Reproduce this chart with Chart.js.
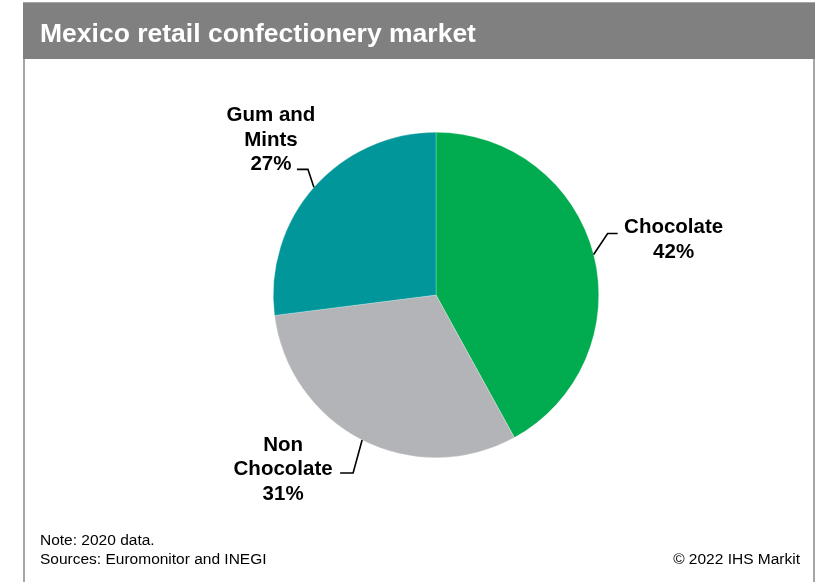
<!DOCTYPE html>
<html>
<head>
<meta charset="utf-8">
<title>Mexico retail confectionery market</title>
<script src="https://cdn.jsdelivr.net/npm/chart.js@4"></script>
<style>
  html, body { margin: 0; padding: 0; background: #ffffff; }
  #wrap { position: relative; width: 817px; height: 582px; }
</style>
</head>
<body>
<div id="wrap"><canvas id="pie"></canvas></div>
<script>
// 2020 retail confectionery split, share of value (%)
const categories = ['Chocolate', 'Non Chocolate', 'Gum and Mints'];
const shares = [42, 31, 27];
const labelLines = [['Chocolate'], ['Non', 'Chocolate'], ['Gum and', 'Mints']];
const sliceColors = ['#00ac4f', '#b2b4b7', '#00969a'];

const FONT = '"Liberation Sans", Arial, Helvetica, sans-serif';

// leader line: elbow offset from the arc midpoint, horizontal tail length,
// and where the text block sits relative to the tail end
const callouts = [
  { elbow: [14, -21], tail: 10,  text: [56, -6] },
  { elbow: [-9, 33],  tail: -13, text: [-57, -28] },
  { elbow: [-6, -18], tail: -11, text: [-26, -54] }
];

const frame = {
  id: 'frame',
  beforeDraw(chart) {
    const c = chart.ctx;
    c.save();
    // outer box
    c.strokeStyle = '#a6a6a6';
    c.lineWidth = 2;
    c.beginPath();
    c.moveTo(24, 600); c.lineTo(24, 3); c.lineTo(814, 3); c.lineTo(814, 600);
    c.stroke();
    // header band
    c.fillStyle = '#7f807f';
    c.fillRect(23, 3, 792, 56);
    c.fillStyle = '#ffffff';
    c.font = 'bold 26.5px ' + FONT;
    c.textBaseline = 'alphabetic';
    c.fillText('Mexico retail confectionery market', 40, 42);
    // footnotes
    c.fillStyle = '#000000';
    c.font = '15.5px ' + FONT;
    c.textBaseline = 'middle';
    c.fillText('Note: 2020 data.', 40, 541);
    c.fillText('Sources: Euromonitor and INEGI', 40, 560);
    c.textAlign = 'right';
    c.fillText('\u00a9 2022 IHS Markit', 800, 560);
    c.restore();
  },
  afterDraw(chart) {
    const c = chart.ctx;
    const arcs = chart.getDatasetMeta(0).data;
    c.save();
    arcs.forEach((arc, i) => {
      const p = arc.getProps(['x', 'y', 'startAngle', 'endAngle', 'outerRadius'], true);
      const mid = (p.startAngle + p.endAngle) / 2;
      const ax = p.x + Math.cos(mid) * p.outerRadius;
      const ay = p.y + Math.sin(mid) * p.outerRadius;
      const co = callouts[i];
      const ex = ax + co.elbow[0], ey = ay + co.elbow[1];
      const tx = ex + co.tail;
      c.strokeStyle = '#000000';
      c.lineWidth = 1.6;
      c.beginPath();
      c.moveTo(ax, ay); c.lineTo(ex, ey); c.lineTo(tx, ey);
      c.stroke();

      const lines = labelLines[i].concat([shares[i] + '%']);
      const cx = tx + co.text[0];
      const top = ey + co.text[1];
      c.fillStyle = '#000000';
      c.font = 'bold 20.5px ' + FONT;
      c.textAlign = 'center';
      c.textBaseline = 'middle';
      lines.forEach((t, k) => c.fillText(t, cx, top + k * 24.5));
    });
    c.restore();
  }
};

new Chart(document.getElementById('pie'), {
  type: 'pie',
  data: {
    labels: categories,
    datasets: [{
      data: shares,
      backgroundColor: sliceColors,
      borderColor: 'rgba(255,255,255,0.5)',
      borderWidth: 0.5
    }]
  },
  options: {
    responsive: true,
    maintainAspectRatio: false,
    animation: false,
    layout: { padding: { left: 273, right: 218, top: 132, bottom: 124 } },
    plugins: {
      legend: { display: false },
      tooltip: { enabled: false },
      title: { display: false }
    }
  },
  plugins: [frame]
});
</script>
</body>
</html>
